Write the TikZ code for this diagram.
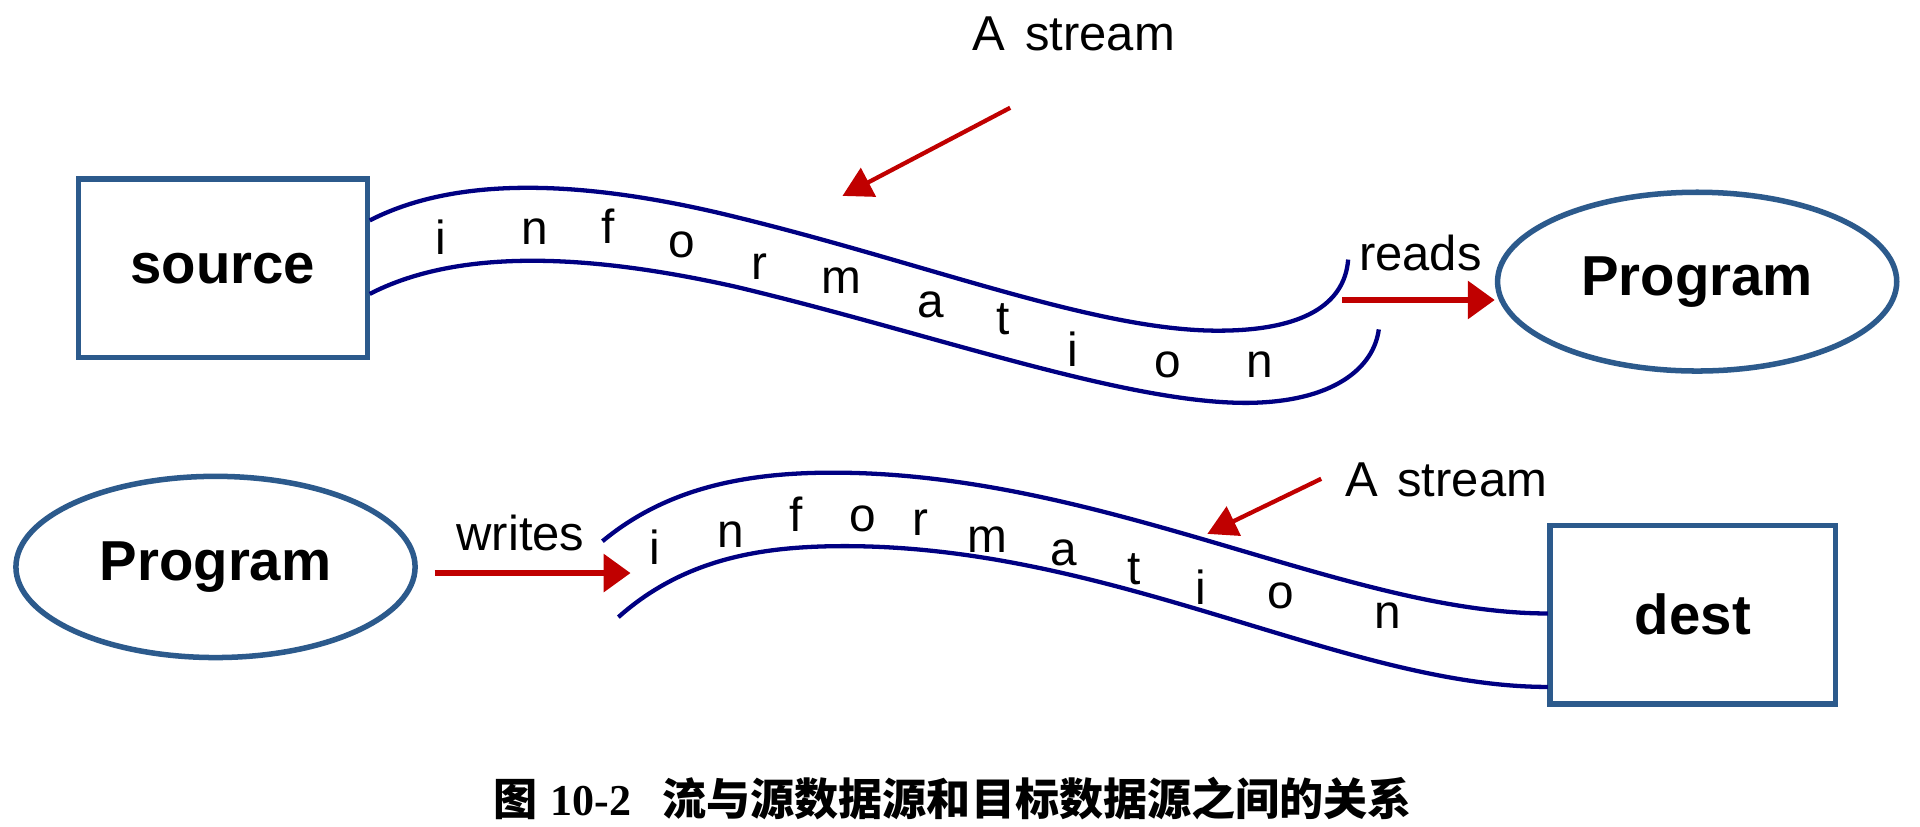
\documentclass[tikz,border=0pt]{standalone}
\usepackage{fontspec}
\setmainfont{Liberation Sans}
\newfontfamily\cjk{Noto Sans CJK SC}
\newfontfamily\capserif{Liberation Serif}
\usetikzlibrary{shapes.geometric,arrows.meta}
\definecolor{boxblue}{RGB}{44,90,140}
\definecolor{streamblue}{RGB}{0,0,130}
\definecolor{arrred}{RGB}{192,0,0}
\begin{document}
\begin{tikzpicture}[x=1pt,y=-1pt,
  boxnode/.style={draw=boxblue,line width=4.5pt,rectangle,inner sep=0pt,
    font=\fontsize{46}{50}\selectfont\bfseries},
  prognode/.style={draw=boxblue,line width=4.5pt,ellipse,inner sep=0pt,
    font=\fontsize{46}{50}\selectfont\bfseries},
  streamline/.style={draw=streamblue,line width=3.5pt},
  letter/.style={anchor=base,inner sep=0pt,font=\fontsize{39}{40}\selectfont},
  lbl/.style={inner sep=0pt,font=\fontsize{40}{44}\selectfont},
  thinarrow/.style={draw=arrred,line width=3.5pt,-{Triangle[length=24pt,width=26pt]}},
  thickarrow/.style={draw=arrred,line width=5.5pt,-{Triangle[length=22pt,width=30pt]}}
]
\useasboundingbox (0,0) rectangle (1568,674.6);
\fill[white] (0,0) rectangle (1568,674.6);

% ---------- top row ----------
\node[boxnode,minimum width=236pt,minimum height=146pt] (source) at (182,219) {source};
\node[prognode,minimum width=326pt,minimum height=146pt] (prog1) at (1386,230) {Program};
\node[lbl] (astream1) at (877,28) {A\hspace{0.4em}stream};
\node[lbl] (reads) at (1160,207) {reads};

\coordinate (s1u) at (302,180);
\coordinate (s1l) at (302,240);
\coordinate (e1u) at (1101,212);
\coordinate (e1l) at (1126,269);
\draw[streamline] (s1u) .. controls (370,145) and (470,145) .. (600,177)
  .. controls (760,216) and (900,272) .. (1000,270)
  .. controls (1062,269) and (1098,250) .. (e1u);
\draw[streamline] (s1l) .. controls (370,205) and (470,205) .. (600,234)
  .. controls (760,272) and (920,330) .. (1020,329)
  .. controls (1090,328) and (1122,300) .. (e1l);

\foreach \ch/\x/\y [count=\i] in {i/360/208,n/437/200,f/497/199,o/557/210,r/620/228,m/687/240,a/760/259,t/819/273,i/876/299,o/954/308,n/1029/308}
  \node[letter] (ta\i) at (\x,\y) {\ch};

\coordinate (a1s) at (825,88);
\coordinate (a1e) at (688,160);
\draw[thinarrow] (a1s) -- (a1e);
\coordinate (rs) at (1096,245);
\draw[thickarrow] (rs) -- (rs -| prog1.west);

% ---------- bottom row ----------
\node[prognode,minimum width=326pt,minimum height=148pt] (prog2) at (176,463) {Program};
\node[boxnode,minimum width=233pt,minimum height=146pt] (dest) at (1382.5,502) {dest};
\node[lbl] (astream2) at (1181,392) {A\hspace{0.4em}stream};
\node[lbl] (writes) at (425,435) {writes};

\coordinate (s2u) at (492,442);
\coordinate (s2l) at (505,504);
\coordinate (e2u) at (1264,501);
\coordinate (e2l) at (1264,561);
\draw[streamline] (s2u) .. controls (545,398) and (610,386) .. (680,386)
  .. controls (900,386) and (1100,501) .. (e2u);
\draw[streamline] (s2l) .. controls (560,455) and (625,446) .. (690,446)
  .. controls (910,446) and (1100,561) .. (e2l);

\foreach \ch/\x/\y [count=\i] in {i/535/461,n/597/447,f/650/434,o/705/434,r/752/437,m/806/451,a/869/462,t/926/477,i/981/494,o/1046/497,n/1133/513}
  \node[letter] (ba\i) at (\x,\y) {\ch};

\coordinate (a2s) at (1079,391);
\coordinate (a2e) at (986,436);
\draw[thinarrow] (a2s) -- (a2e);
\coordinate (ws) at (355,468);
\coordinate (we) at (515,468);
\draw[thickarrow] (ws) -- (we);

% ---------- caption ----------
\node[inner sep=0pt,font=\fontsize{36}{40}\selectfont] (caption) at (778,652)
  {{\cjk\bfseries 图}\hspace{0.3em}{\capserif\bfseries 10-2}\hspace{0.7em}{\cjk\bfseries 流与源数据源和目标数据源之间的关系}};
\end{tikzpicture}
\end{document}
